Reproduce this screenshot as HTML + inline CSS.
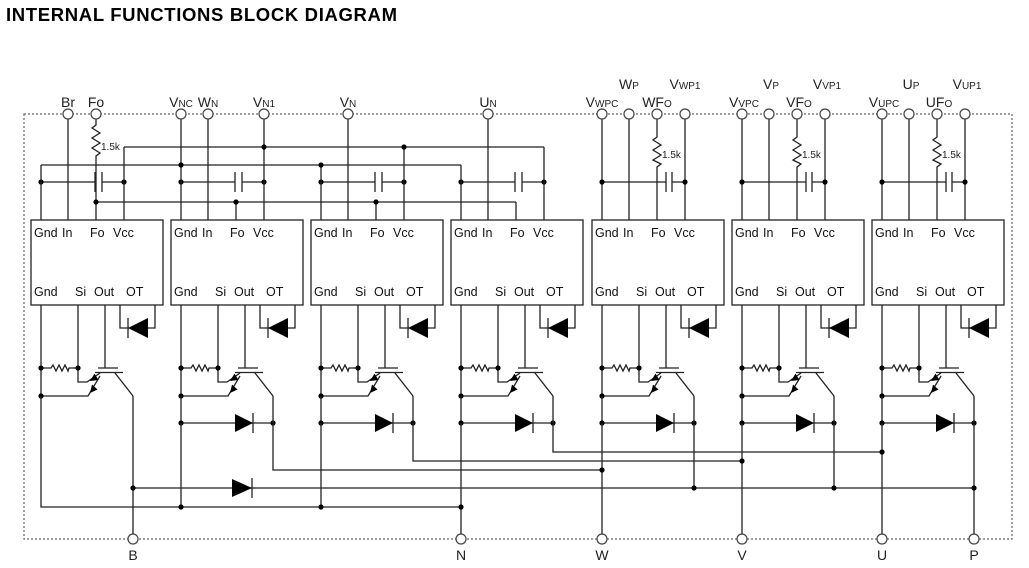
<!DOCTYPE html>
<html><head><meta charset="utf-8"><style>
html,body{margin:0;padding:0;background:#fff;}
svg{display:block;font-family:"Liberation Sans",Arial,sans-serif;}
</style></head><body>
<svg width="1029" height="568" viewBox="0 0 1029 568" xmlns="http://www.w3.org/2000/svg">
<text x="6" y="21" font-size="18.5" font-weight="bold" textLength="391" fill="#000">INTERNAL FUNCTIONS BLOCK DIAGRAM</text>
<defs>
<g id="m" fill="none" stroke="#222" stroke-width="1.3">
  <rect x="0" y="220" width="132" height="85"/>
  <path d="M10 305V396 M47 305V382H56L69 373 M10 396H57L69 376 M74 305V368 M67 368H87 M64 372.5H92 M84 373L102 396"/>
  <path d="M10 368H20l2-3 3 6 3-6 3 6 3-6 3 6 1-3H47"/>
  <path d="M89 305V328H124V305"/>
  <path d="M97 318V338" />
  <polygon points="97,328 117,318 117,338" fill="#000" stroke="none"/>
  <polygon points="59,381 67.5,380 63.5,373.6" fill="#000" stroke="none"/>
  <polygon points="59,393 66.5,389.5 61,384.6" fill="#000" stroke="none"/>
  <g fill="#000" stroke="none"><circle cx="10" cy="368" r="2.6"/><circle cx="47" cy="368" r="2.6"/><circle cx="10" cy="396" r="2.6"/></g>
</g>
<g id="fw" fill="none" stroke="#222" stroke-width="1.3">
  <path d="M10 396V423H102 M82 413V433"/>
  <polygon points="64,414 82,423 64,432" fill="#000" stroke="none"/>
  <g fill="#000" stroke="none"><circle cx="10" cy="423" r="2.6"/><circle cx="102" cy="423" r="2.6"/></g>
</g>
<g id="cap" fill="none" stroke="#222" stroke-width="1.3">
  <path d="M10 182H64 M71 182H93 M64 172V192 M71 172V192"/>
  <g fill="#000" stroke="none"><circle cx="10" cy="182" r="2.6"/><circle cx="93" cy="182" r="2.6"/></g>
</g>
</defs>

<rect x="24" y="114" width="988" height="425" fill="none" stroke="#666" stroke-width="1.2" stroke-dasharray="2,2"/>

<g>
<use href="#m" x="31"/><use href="#m" x="171"/><use href="#m" x="311"/><use href="#m" x="451"/>
<use href="#m" x="592"/><use href="#m" x="732"/><use href="#m" x="872"/>
<use href="#fw" x="171"/><use href="#fw" x="311"/><use href="#fw" x="451"/>
<use href="#fw" x="592"/><use href="#fw" x="732"/><use href="#fw" x="872"/>
<use href="#cap" x="31"/><use href="#cap" x="171"/><use href="#cap" x="311"/><use href="#cap" x="451"/>
</g>
<g fill="none" stroke="#222" stroke-width="1.3">
  <path d="M602 182H666 M672 182H685 M666 172V192 M672 172V192"/>
  <path d="M742 182H806 M812 182H825 M806 172V192 M812 172V192"/>
  <path d="M882 182H946 M952 182H965 M946 172V192 M952 172V192"/>
</g>

<g fill="none" stroke="#222" stroke-width="1.3">
<path d="M68 119V220 M96 119V125l-4 3 8 5-8 5 8 5-8 5 8 5-4 3V220"/>
<path d="M181 119V220 M208 119V220 M264 119V220 M348 119V220 M488 119V220"/>
<path d="M124 147H544 M124 147V220 M404 147V220 M544 147V220"/>
<path d="M41 165H461 M41 165V220 M321 165V220 M461 165V220"/>
<path d="M96 202H516 M236 202V220 M376 202V220 M516 202V220"/>
<path d="M602 119V220 M629 119V220 M685 119V220 M657 119V137l-4 3 8 5-8 5 8 5-8 5 8 4-4 3V220"/>
<path d="M742 119V220 M769 119V220 M825 119V220 M797 119V137l-4 3 8 5-8 5 8 5-8 5 8 4-4 3V220"/>
<path d="M882 119V220 M909 119V220 M965 119V220 M937 119V137l-4 3 8 5-8 5 8 5-8 5 8 4-4 3V220"/>
<path d="M41 396V507H461 M181 423V507 M321 423V507 M461 423V534"/>
<path d="M273 396V470H602 M413 396V461H742 M553 396V452H882"/>
<path d="M602 423V534 M742 423V534 M882 423V534"/>
<path d="M133 396V534 M133 488H974 M694 396V488 M834 396V488 M974 396V534 M252 478V498"/>
</g>
<polygon points="232,479 252,488 232,497" fill="#000"/>
<g fill="#000">
<circle cx="96" cy="202" r="2.6"/><circle cx="236" cy="202" r="2.6"/><circle cx="376" cy="202" r="2.6"/>
<circle cx="264" cy="147" r="2.6"/><circle cx="404" cy="147" r="2.6"/>
<circle cx="181" cy="165" r="2.6"/><circle cx="321" cy="165" r="2.6"/>
<circle cx="602" cy="182" r="2.6"/><circle cx="685" cy="182" r="2.6"/>
<circle cx="742" cy="182" r="2.6"/><circle cx="825" cy="182" r="2.6"/>
<circle cx="882" cy="182" r="2.6"/><circle cx="965" cy="182" r="2.6"/>
<circle cx="181" cy="507" r="2.6"/><circle cx="321" cy="507" r="2.6"/><circle cx="461" cy="507" r="2.6"/>
<circle cx="602" cy="470" r="2.6"/><circle cx="742" cy="461" r="2.6"/><circle cx="882" cy="452" r="2.6"/>
<circle cx="133" cy="488" r="2.6"/><circle cx="694" cy="488" r="2.6"/><circle cx="834" cy="488" r="2.6"/><circle cx="974" cy="488" r="2.6"/>
</g>

<g fill="#fff" stroke="#444" stroke-width="1.2">
<circle cx="68" cy="114" r="5"/><circle cx="96" cy="114" r="5"/><circle cx="181" cy="114" r="5"/><circle cx="208" cy="114" r="5"/>
<circle cx="264" cy="114" r="5"/><circle cx="348" cy="114" r="5"/><circle cx="488" cy="114" r="5"/>
<circle cx="602" cy="114" r="5"/><circle cx="629" cy="114" r="5"/><circle cx="657" cy="114" r="5"/><circle cx="685" cy="114" r="5"/>
<circle cx="742" cy="114" r="5"/><circle cx="769" cy="114" r="5"/><circle cx="797" cy="114" r="5"/><circle cx="825" cy="114" r="5"/>
<circle cx="882" cy="114" r="5"/><circle cx="909" cy="114" r="5"/><circle cx="937" cy="114" r="5"/><circle cx="965" cy="114" r="5"/>
<circle cx="133" cy="539" r="5"/><circle cx="461" cy="539" r="5"/><circle cx="602" cy="539" r="5"/>
<circle cx="742" cy="539" r="5"/><circle cx="882" cy="539" r="5"/><circle cx="974" cy="539" r="5"/>
</g>

<g font-size="14" fill="#222" text-anchor="middle">
<text x="68" y="107">Br</text><text x="96" y="107">Fo</text>
<text x="181" y="107">V<tspan font-size="10">NC</tspan></text>
<text x="208" y="107">W<tspan font-size="10">N</tspan></text>
<text x="264" y="107">V<tspan font-size="10">N1</tspan></text>
<text x="348" y="107">V<tspan font-size="10">N</tspan></text>
<text x="488" y="107">U<tspan font-size="10">N</tspan></text>
<text x="602" y="107">V<tspan font-size="10">WPC</tspan></text>
<text x="629" y="89">W<tspan font-size="10">P</tspan></text>
<text x="657" y="107">WF<tspan font-size="10">O</tspan></text>
<text x="685" y="89">V<tspan font-size="10">WP1</tspan></text>
<text x="744" y="107">V<tspan font-size="10">VPC</tspan></text>
<text x="771" y="89">V<tspan font-size="10">P</tspan></text>
<text x="799" y="107">VF<tspan font-size="10">O</tspan></text>
<text x="827" y="89">V<tspan font-size="10">VP1</tspan></text>
<text x="884" y="107">V<tspan font-size="10">UPC</tspan></text>
<text x="911" y="89">U<tspan font-size="10">P</tspan></text>
<text x="939" y="107">UF<tspan font-size="10">O</tspan></text>
<text x="967" y="89">V<tspan font-size="10">UP1</tspan></text>
<text x="133" y="560">B</text><text x="461" y="560">N</text><text x="602" y="560">W</text>
<text x="742" y="560">V</text><text x="882" y="560">U</text><text x="974" y="560">P</text>
</g>
<g font-size="10" fill="#222">
<text x="101" y="150">1.5k</text><text x="662" y="158">1.5k</text><text x="802" y="158">1.5k</text><text x="942" y="158">1.5k</text>
</g>

<g font-size="12.5" fill="#111">
<g transform="translate(31,0)"><text x="3" y="237">Gnd</text><text x="31" y="237">In</text><text x="59" y="237">Fo</text><text x="82" y="237">Vcc</text><text x="3" y="296">Gnd</text><text x="44" y="296">Si</text><text x="63" y="296">Out</text><text x="95" y="296">OT</text></g>
<g transform="translate(171,0)"><text x="3" y="237">Gnd</text><text x="31" y="237">In</text><text x="59" y="237">Fo</text><text x="82" y="237">Vcc</text><text x="3" y="296">Gnd</text><text x="44" y="296">Si</text><text x="63" y="296">Out</text><text x="95" y="296">OT</text></g>
<g transform="translate(311,0)"><text x="3" y="237">Gnd</text><text x="31" y="237">In</text><text x="59" y="237">Fo</text><text x="82" y="237">Vcc</text><text x="3" y="296">Gnd</text><text x="44" y="296">Si</text><text x="63" y="296">Out</text><text x="95" y="296">OT</text></g>
<g transform="translate(451,0)"><text x="3" y="237">Gnd</text><text x="31" y="237">In</text><text x="59" y="237">Fo</text><text x="82" y="237">Vcc</text><text x="3" y="296">Gnd</text><text x="44" y="296">Si</text><text x="63" y="296">Out</text><text x="95" y="296">OT</text></g>
<g transform="translate(592,0)"><text x="3" y="237">Gnd</text><text x="31" y="237">In</text><text x="59" y="237">Fo</text><text x="82" y="237">Vcc</text><text x="3" y="296">Gnd</text><text x="44" y="296">Si</text><text x="63" y="296">Out</text><text x="95" y="296">OT</text></g>
<g transform="translate(732,0)"><text x="3" y="237">Gnd</text><text x="31" y="237">In</text><text x="59" y="237">Fo</text><text x="82" y="237">Vcc</text><text x="3" y="296">Gnd</text><text x="44" y="296">Si</text><text x="63" y="296">Out</text><text x="95" y="296">OT</text></g>
<g transform="translate(872,0)"><text x="3" y="237">Gnd</text><text x="31" y="237">In</text><text x="59" y="237">Fo</text><text x="82" y="237">Vcc</text><text x="3" y="296">Gnd</text><text x="44" y="296">Si</text><text x="63" y="296">Out</text><text x="95" y="296">OT</text></g>
</g>
</svg>
</body></html>
